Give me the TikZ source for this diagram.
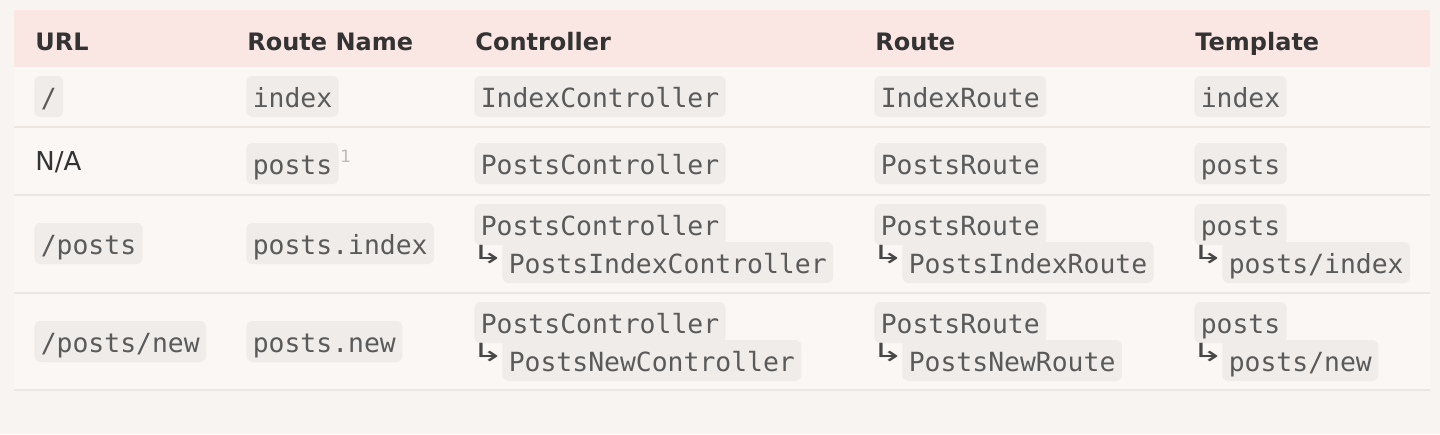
\documentclass[tikz,border=0pt]{standalone}
\usepackage{fontspec}
\setmainfont{DejaVu Sans}
\setmonofont{DejaVu Sans Mono}
\usepackage{xcolor}
\usepackage{graphicx}
\usetikzlibrary{positioning}

\definecolor{pagebg}{HTML}{F8F4F1}
\definecolor{bodybg}{HTML}{FBF7F5}
\definecolor{headbg}{HTML}{FAE7E4}
\definecolor{rowline}{HTML}{ECE6E3}
\definecolor{codebg}{HTML}{F0ECE9}
\definecolor{codefg}{HTML}{5A5A5A}
\definecolor{headfg}{HTML}{333333}
\definecolor{notefg}{HTML}{BDBDBD}

\begin{document}
\begin{tikzpicture}[x=0.5pt,y=-0.5pt]

\tikzset{code/.style={fill=codebg, rounded corners=3pt, anchor=base west, inner xsep=3.2pt, inner ysep=0pt,
  text height=15.5pt, text depth=5pt, text=codefg, font=\fontsize{13.2}{15}\ttfamily},
head/.style={anchor=base west, inner sep=0pt, text=headfg, font=\fontsize{12}{14}\bfseries},
plain/.style={anchor=base west, inner sep=0pt, text=headfg, font=\fontsize{13}{15}\selectfont},
hook/.style={anchor=base west, inner sep=0pt, text=headfg!90, font=\fontsize{12.5}{15}\selectfont},
note/.style={anchor=base west, inner sep=0pt, text=notefg, font=\fontsize{8.5}{10}\selectfont}}

\useasboundingbox (0,0) rectangle (1440,434);
\fill[pagebg] (0,0) rectangle (1440,434);

%table body and header band
\fill[bodybg] (14,67) rectangle (1430,390);
\fill[headbg] (14,10) rectangle (1430,67);
\foreach \y in {127,195,293,390}
    \draw[rowline, line width=0.8pt] (14,\y) -- (1430,\y);

\foreach \x/\t/\n in {35/URL/hurl, 247/Route Name/hname, 475/Controller/hctl, 875/Route/hroute, 1195/Template/htpl}
    \node[head] (\n) at (\x,50) {\t};

%row 1
\node[code] (url1) at (34,107) {/};
\node[code] (name1) at (246,107) {index};
\node[code] (ctl1) at (474,107) {IndexController};
\node[code] (route1) at (874,107) {IndexRoute};
\node[code] (tpl1) at (1194,107) {index};

%row 2
\node[plain] (url2) at (35,170) {N/A};
\node[code] (name2) at (246,174) {posts};
\node[note] (fn2) at (340,162) {1};
\node[code] (ctl2) at (474,174) {PostsController};
\node[code] (route2) at (874,174) {PostsRoute};
\node[code] (tpl2) at (1194,174) {posts};

%row 3
\node[code] (url3) at (34,254) {/posts};
\node[code] (name3) at (246,254) {posts.index};
\node[code] (ctl3a) at (474,235) {PostsController};
\node[code] (route3a) at (874,235) {PostsRoute};
\node[code] (tpl3a) at (1194,235) {posts};
\foreach \x/\n in {471/ctl3h, 871/route3h, 1191/tpl3h}
    \node[hook] (\n) at (\x,263) {\scalebox{1.55}[1]{↳}};
\node[code] (ctl3b) at (502,273) {PostsIndexController};
\node[code] (route3b) at (902,273) {PostsIndexRoute};
\node[code] (tpl3b) at (1222,273) {posts/index};

%row 4
\node[code] (url4) at (34,352) {/posts/new};
\node[code] (name4) at (246,352) {posts.new};
\node[code] (ctl4a) at (474,333) {PostsController};
\node[code] (route4a) at (874,333) {PostsRoute};
\node[code] (tpl4a) at (1194,333) {posts};
\foreach \x/\n in {471/ctl4h, 871/route4h, 1191/tpl4h}
    \node[hook] (\n) at (\x,361) {\scalebox{1.55}[1]{↳}};
\node[code] (ctl4b) at (502,371) {PostsNewController};
\node[code] (route4b) at (902,371) {PostsNewRoute};
\node[code] (tpl4b) at (1222,371) {posts/new};

\end{tikzpicture}
\end{document}
